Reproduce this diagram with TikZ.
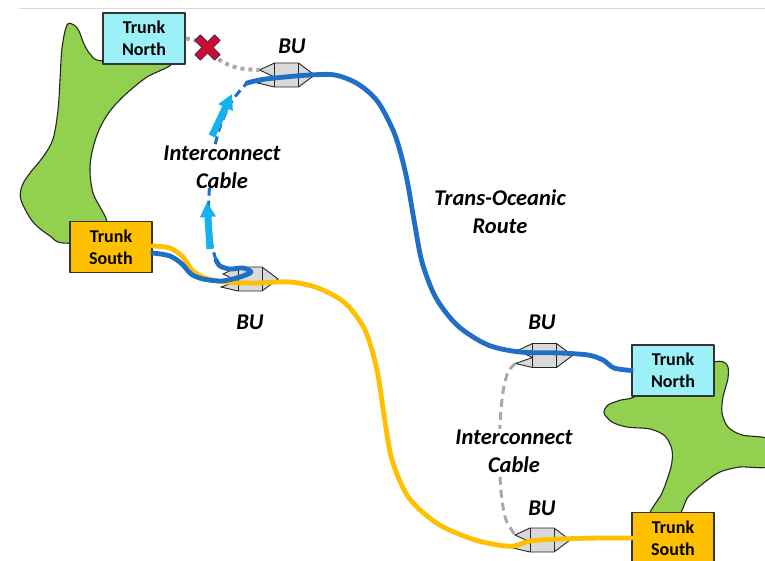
\documentclass[tikz,border=0pt]{standalone}
\usepackage{fontspec}
\setmainfont{Carlito}
\usetikzlibrary{arrows.meta}

\definecolor{landgreen}{HTML}{92D050}
\definecolor{boxcyan}{HTML}{9CF1F9}
\definecolor{boxorange}{HTML}{FFC000}
\definecolor{routeblue}{HTML}{1F6FC6}
\definecolor{arrowblue}{HTML}{14B2EE}
\definecolor{linkgray}{HTML}{A9A9A9}
\definecolor{bugray}{HTML}{D9D9D9}
\definecolor{faultred}{HTML}{C8102E}
\definecolor{faultedge}{HTML}{4A2A6A}

\tikzset{
  land/.style={fill=landgreen, draw=black!85, line width=1.1pt},
  trunk/.style={draw=black!80, line width=1.5pt, minimum width=82pt,
    minimum height=51pt, inner sep=0pt, align=center,
    font=\fontsize{18}{22}\selectfont\bfseries},
  tag/.style={font=\fontsize{22.5}{28}\selectfont\bfseries\itshape,
    align=center, inner sep=1pt},
  bluecable/.style={draw=routeblue, line width=4.8pt, line cap=round},
  yellowcable/.style={draw=boxorange, line width=4.8pt, line cap=round},
  bluedash/.style={draw=routeblue, line width=3pt, dash pattern=on 8pt off 5pt},
  graydash/.style={draw=linkgray, line width=3pt, dash pattern=on 8pt off 5pt},
  graydots/.style={draw=linkgray, line width=4pt, dash pattern=on 4pt off 4pt},
  flowarrow/.style={draw=arrowblue, line width=7pt,
    -{Triangle[length=15pt,width=15pt]}},
  bushape/.style={fill=bugray, draw=black!85, line width=0.9pt, line join=miter},
  bu/.pic={
    \path[bushape] (-12,-12) -- (12,-12) -- (28,0) -- (12,12) -- (-12,12)
      -- (-29,8) -- (-12,2) -- (-27,-5) -- cycle;
    \draw[black!85, line width=0.9pt] (-12,-12) -- (-12,12) (12,-12) -- (12,12);
    \coordinate (-up) at (-27,-5);
    \coordinate (-lo) at (-29,8);
    \coordinate (-notch) at (-12,2);
    \coordinate (-tip) at (28,0);
  }
}

\begin{document}
\begin{tikzpicture}[x=1pt, y=-1pt, line join=round]
\useasboundingbox (0,0) rectangle (765,561);
\fill[white] (0,0) rectangle (765,561);
\clip (0,0) rectangle (765,561);

% thin rule along the top edge
\draw[black!15, line width=1pt] (19,9) -- (765,9);

% western landmass
\draw[land] plot[smooth cycle, tension=0.55] coordinates {
  (67,25) (74,25) (79,31) (84,44) (91,55) (103,61) (170,63)
  (147,77) (127,93) (110,111) (99,130) (92,152) (90,172) (93,193)
  (100,207) (107,222) (104,240) (63,243) (50,236) (33,222) (21,200)
  (22,186) (30,173) (43,157) (53,139) (58,110) (60,80) (62,48)};

% eastern landmass
\draw[land] plot[smooth cycle, tension=0.5] coordinates {
  (714,362) (727,365) (728,378) (723,397) (722,413) (728,427) (742,435)
  (770,440) (770,466) (740,467) (720,472) (705,482) (688,497) (678,515)
  (650,515) (662,493) (671,467) (672,450) (665,436) (650,429) (627,427)
  (612,422) (604,413) (608,405) (621,400) (634,397) (660,380)};

% cable stations
\node[trunk, fill=boxcyan]   (tnL) at (144,38.5) {Trunk\\North};
\node[trunk, fill=boxorange] (tsL) at (111,247)  {Trunk\\South};
\node[trunk, fill=boxcyan]   (tnR) at (673,370.5) {Trunk\\North};
\node[trunk, fill=boxorange] (tsR) at (673,538)  {Trunk\\South};

% branching units
\pic (buT) at (286.5,75)  {bu};
\pic (buM) at (250,279)   {bu};
\pic (buR) at (544.5,355.5) {bu};
\pic (buB) at (542,540)   {bu};

\node[tag] (lbT) at (292,46)  {BU};
\node[tag] (lbM) at (250,322) {BU};
\node[tag] (lbR) at (542,322) {BU};
\node[tag] (lbB) at (542,508) {BU};

% failed landing leg
\draw[graydots] plot[smooth] coordinates {
  (tnL.east) (200,42) (210,51) (221,61) (238,68) (buT-up)};
\coordinate (fault) at (207.5,47.5);
\begin{scope}[shift={(fault)}]
  \filldraw[fill=faultred, draw=faultedge, line width=0.8pt]
    (0,-5.6) -- (7.1,-12.7) -- (12.7,-7.1) -- (5.6,0) -- (12.7,7.1)
    -- (7.1,12.7) -- (0,5.6) -- (-7.1,12.7) -- (-12.7,7.1) -- (-5.6,0)
    -- (-12.7,-7.1) -- (-7.1,-12.7) -- cycle;
\end{scope}

% spare interconnect on the eastern side
\draw[graydash] plot[smooth] coordinates {
  (buR-lo) (508,372) (503,392) (500,425) (500,475) (502,500) (506,520) (buB-up)};
\node[tag, fill=white] (icR) at (514,451.5) {Interconnect\\Cable};

% western interconnect, re-routed into the trans-oceanic trunk
\coordinate (icTop) at (247,83);
\coordinate (icBot) at (216,260);
\draw[bluedash] plot[smooth] coordinates {
  (icBot) (212,245) (209,218) (209,195) (212,160) (220,127) (232,101) (icTop)};
\node[tag, fill=white, inner sep=0pt] (icL) at (222,167) {Interconnect\\Cable};

% yellow trunk south-to-south
\draw[yellowcable] plot[smooth] coordinates {
  ([yshift=1pt]tsL.east) (170,248) (183,257) (192,270) (205,278) (225,282)
  (255,283) (290,282) (318,288) (345,303) (365,330) (377,370) (384,415)
  (392,460) (409,498) (438,524) (472,539) (498,545) (514,546) (530,541)
  (560,539) (600,538) (tsR.west)};

% blue landing into the western branching unit
\draw[bluecable] plot[smooth, tension=0.5] coordinates {
  ([yshift=-6pt]tsL.east) (170,256) (182,264) (191,274) (203,279) (222,281)
  (240,277) (251,272) (243,268) (230,269) (220,266) (icBot)};

% trans-oceanic route
\draw[bluecable] plot[smooth] coordinates {
  (icTop) (262,79.5) (285,77) (310,75) (335,75) (358,84) (378,102)
  (395,135) (406,175) (414,220) (422,262) (436,298) (458,326) (488,345)
  (520,352) (560,353) (588,355) (603,360) (614,368) (tnR.west)};

\node[tag] (lbTO) at (500,212) {Trans-Oceanic\\Route};

% direction of the re-routed traffic
\coordinate (f1s) at (210,249);
\coordinate (f1e) at (207,202);
\coordinate (f2s) at (212,136);
\coordinate (f2e) at (232,94);
\draw[flowarrow] (f1s) -- (f1e);
\draw[flowarrow] (f2s) -- (f2e);
\end{tikzpicture}
\end{document}
